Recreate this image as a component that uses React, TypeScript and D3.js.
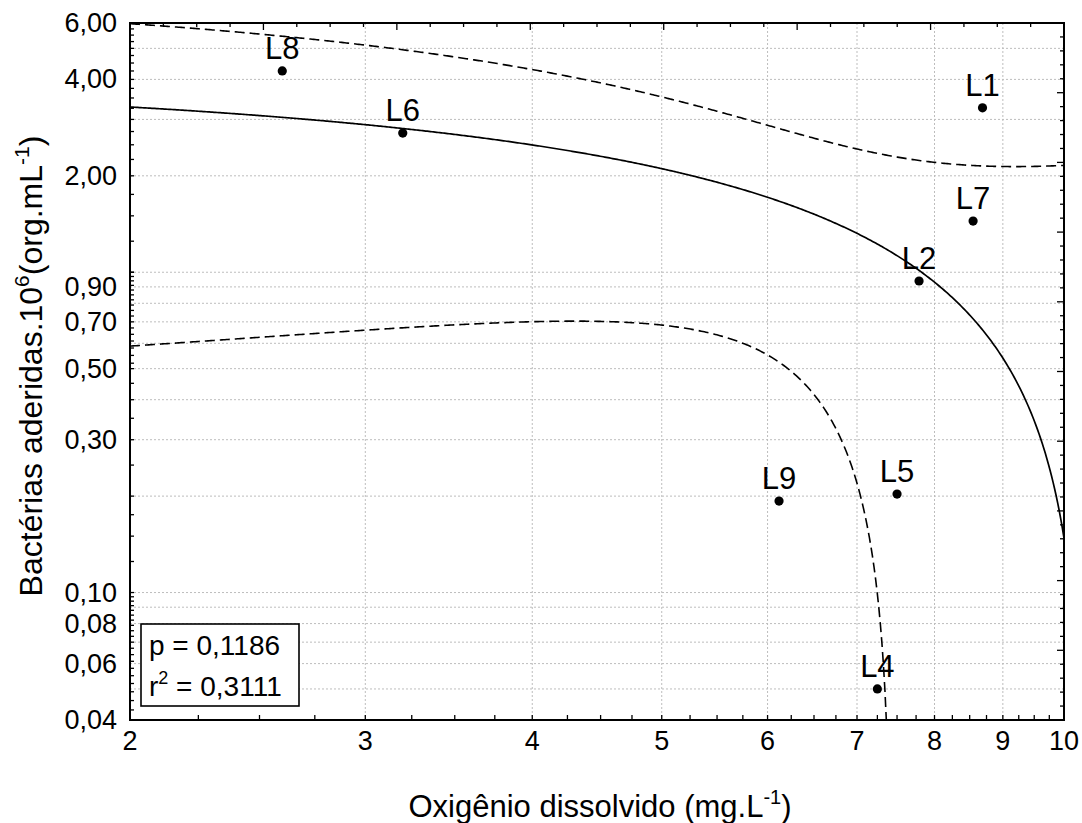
import React from 'react';
import * as d3 from 'd3';

// ---- data ----
const sites = ['L8', 'L6', 'L1', 'L7', 'L2', 'L9', 'L5', 'L4'];
const oxygen = [2.6, 3.2, 8.69, 8.55, 7.79, 6.12, 7.5, 7.25];
const bacteria = [4.25, 2.72, 3.26, 1.445, 0.939, 0.193, 0.203, 0.05];

const xTickValues = [2, 3, 4, 5, 6, 7, 8, 9, 10];
const yTickValues = [0.04, 0.06, 0.08, 0.1, 0.3, 0.5, 0.7, 0.9, 2, 4, 6];
const xGridValues = [3, 4, 5, 6, 7, 8, 9];
const yGridValues = [
  0.05, 0.06, 0.07, 0.08, 0.09, 0.1, 0.2, 0.3, 0.4, 0.5, 0.6, 0.7, 0.8, 0.9, 1, 2, 3, 4, 5,
];

// linear fit with 95% confidence band (parameters)
const fitIntercept = 4.063;
const fitSlope = -0.3915;
const fitN = 9;
const tCrit = 2.365;
const fitMeanX = 6.75;
const fitSxx = 40.3;
const fitSe = 1.3896;

const statsP = 'p = 0,1186';
const statsR = '0,3111';

const fmt = (v: number) => v.toFixed(2).replace('.', ',');

const W = 1082;
const H = 823;
const FONT = "'Liberation Sans', Arial, Helvetica, sans-serif";

export default function App() {
  const x = d3.scaleLog().domain([2, 10]).range([130, 1064]);
  const y = d3.scaleLog().domain([0.04, 6]).range([720, 23]);
  const [x0, x1] = x.range();
  const [y0, y1] = y.range();

  const samples = d3.range(0, 601).map((i) => 2 * Math.pow(5, i / 600));
  const fit = (v: number) => fitIntercept + fitSlope * v;
  const hw = (v: number) =>
    tCrit * fitSe * Math.sqrt(1 / fitN + ((v - fitMeanX) * (v - fitMeanX)) / fitSxx);

  const line = d3
    .line<[number, number]>()
    .defined((d) => d[1] > 0)
    .x((d) => x(d[0]))
    .y((d) => y(Math.max(d[1], 1e-4)));

  const mid = line(samples.map((v) => [v, fit(v)] as [number, number])) || '';
  const upper = line(samples.map((v) => [v, fit(v) + hw(v)] as [number, number])) || '';
  const lower = line(samples.map((v) => [v, fit(v) - hw(v)] as [number, number])) || '';

  // minor ticks
  const bottomTicks = d3.range(2, 10.0001, 0.25);
  const leftTicks = [
    ...d3.range(0, 21).map((i) => 0.04 + i * 0.003),
    ...d3.range(1, 4).map((i) => 0.1 + i * 0.025),
    ...d3.range(0, 7).map((i) => 0.2 + i * 0.05),
    ...d3.range(0, 17).map((i) => 1 - i * 0.03),
    ...d3.range(0, 21).map((i) => 1 + i * 0.25),
  ];
  const topScale = d3.scaleLinear().domain([0, 28]).range([x0, x1]);
  const rightScale = d3.scaleLinear().domain([0, 50]).range([y0, y1]);

  return (
    <svg
      width={W}
      height={H}
      style={{ position: 'absolute', left: 0, top: 0, background: '#fff' }}
      fontFamily={FONT}
    >
      <defs>
        <clipPath id="plotclip">
          <rect x={x0} y={y1} width={x1 - x0} height={y0 - y1} />
        </clipPath>
      </defs>
      <rect x={0} y={0} width={W} height={H} fill="#fff" />

      {/* grid */}
      <g stroke="#bdbdbd" strokeWidth={1} strokeDasharray="2,2">
        {xGridValues.map((v) => (
          <line key={'gx' + v} x1={x(v)} x2={x(v)} y1={y1} y2={y0} />
        ))}
        {yGridValues.map((v) => (
          <line key={'gy' + v} x1={x0} x2={x1} y1={y(v)} y2={y(v)} />
        ))}
      </g>

      {/* curves */}
      <g clipPath="url(#plotclip)" fill="none" stroke="#000">
        <path d={mid} strokeWidth={1.7} />
        <path d={upper} strokeWidth={1.6} strokeDasharray="10,5" />
        <path d={lower} strokeWidth={1.6} strokeDasharray="10,5" />
      </g>

      {/* points */}
      <g>
        {sites.map((s, i) => (
          <g key={s}>
            <circle cx={x(oxygen[i])} cy={y(bacteria[i])} r={4.6} fill="#000" />
            <text
              x={x(oxygen[i])}
              y={y(bacteria[i]) - 12}
              textAnchor="middle"
              fontSize={31}
              fill="#000"
            >
              {s}
            </text>
          </g>
        ))}
      </g>

      {/* stats box */}
      <g>
        <rect x={141} y={624} width={158} height={82} fill="#fff" stroke="#000" strokeWidth={1.6} />
        <text x={149} y={655} fontSize={28} fill="#000">
          {statsP}
        </text>
        <text x={149} y={696} fontSize={28} fill="#000">
          r
          <tspan dy={-12} fontSize={18}>
            2
          </tspan>
          <tspan dy={12}> = {statsR}</tspan>
        </text>
      </g>

      {/* ticks */}
      <g stroke="#000" strokeWidth={1.3}>
        {bottomTicks.map((v, i) => (
          <line key={'bt' + i} x1={x(v)} x2={x(v)} y1={y0} y2={y0 - 5} />
        ))}
        {leftTicks.map((v, i) => (
          <line key={'lt' + i} x1={x0} x2={x0 + 4} y1={y(v)} y2={y(v)} />
        ))}
        {d3.range(0, 29).map((i) => (
          <line
            key={'tt' + i}
            x1={topScale(i)}
            x2={topScale(i)}
            y1={y1}
            y2={y1 + (i % 4 === 0 ? 7 : 4)}
          />
        ))}
        {d3.range(0, 51).map((i) => (
          <line
            key={'rt' + i}
            x1={x1}
            x2={x1 - (i % 5 === 0 ? 7 : 4)}
            y1={rightScale(i)}
            y2={rightScale(i)}
          />
        ))}
      </g>

      {/* frame */}
      <rect x={x0} y={y1} width={x1 - x0} height={y0 - y1} fill="none" stroke="#000" strokeWidth={2} />

      {/* tick labels */}
      <g fontSize={27} fill="#000">
        {xTickValues.map((v) => (
          <text key={'xl' + v} x={x(v)} y={750} textAnchor="middle">
            {String(v)}
          </text>
        ))}
        {yTickValues.map((v) => (
          <text key={'yl' + v} x={117} y={y(v) + 9} textAnchor="end">
            {fmt(v)}
          </text>
        ))}
      </g>

      {/* axis titles */}
      <text x={600} y={817} textAnchor="middle" fontSize={31} fill="#000">
        Oxigênio dissolvido (mg.L
        <tspan dy={-13} fontSize={20}>
          -1
        </tspan>
        <tspan dy={13}>)</tspan>
      </text>
      <text
        transform={`translate(42, 366) rotate(-90)`}
        textAnchor="middle"
        fontSize={32}
        fill="#000"
      >
        Bactérias aderidas.10
        <tspan dy={-13} fontSize={21}>
          6
        </tspan>
        <tspan dy={13}>(org.mL</tspan>
        <tspan dy={-13} fontSize={21}>
          -1
        </tspan>
        <tspan dy={13}>)</tspan>
      </text>
    </svg>
  );
}
